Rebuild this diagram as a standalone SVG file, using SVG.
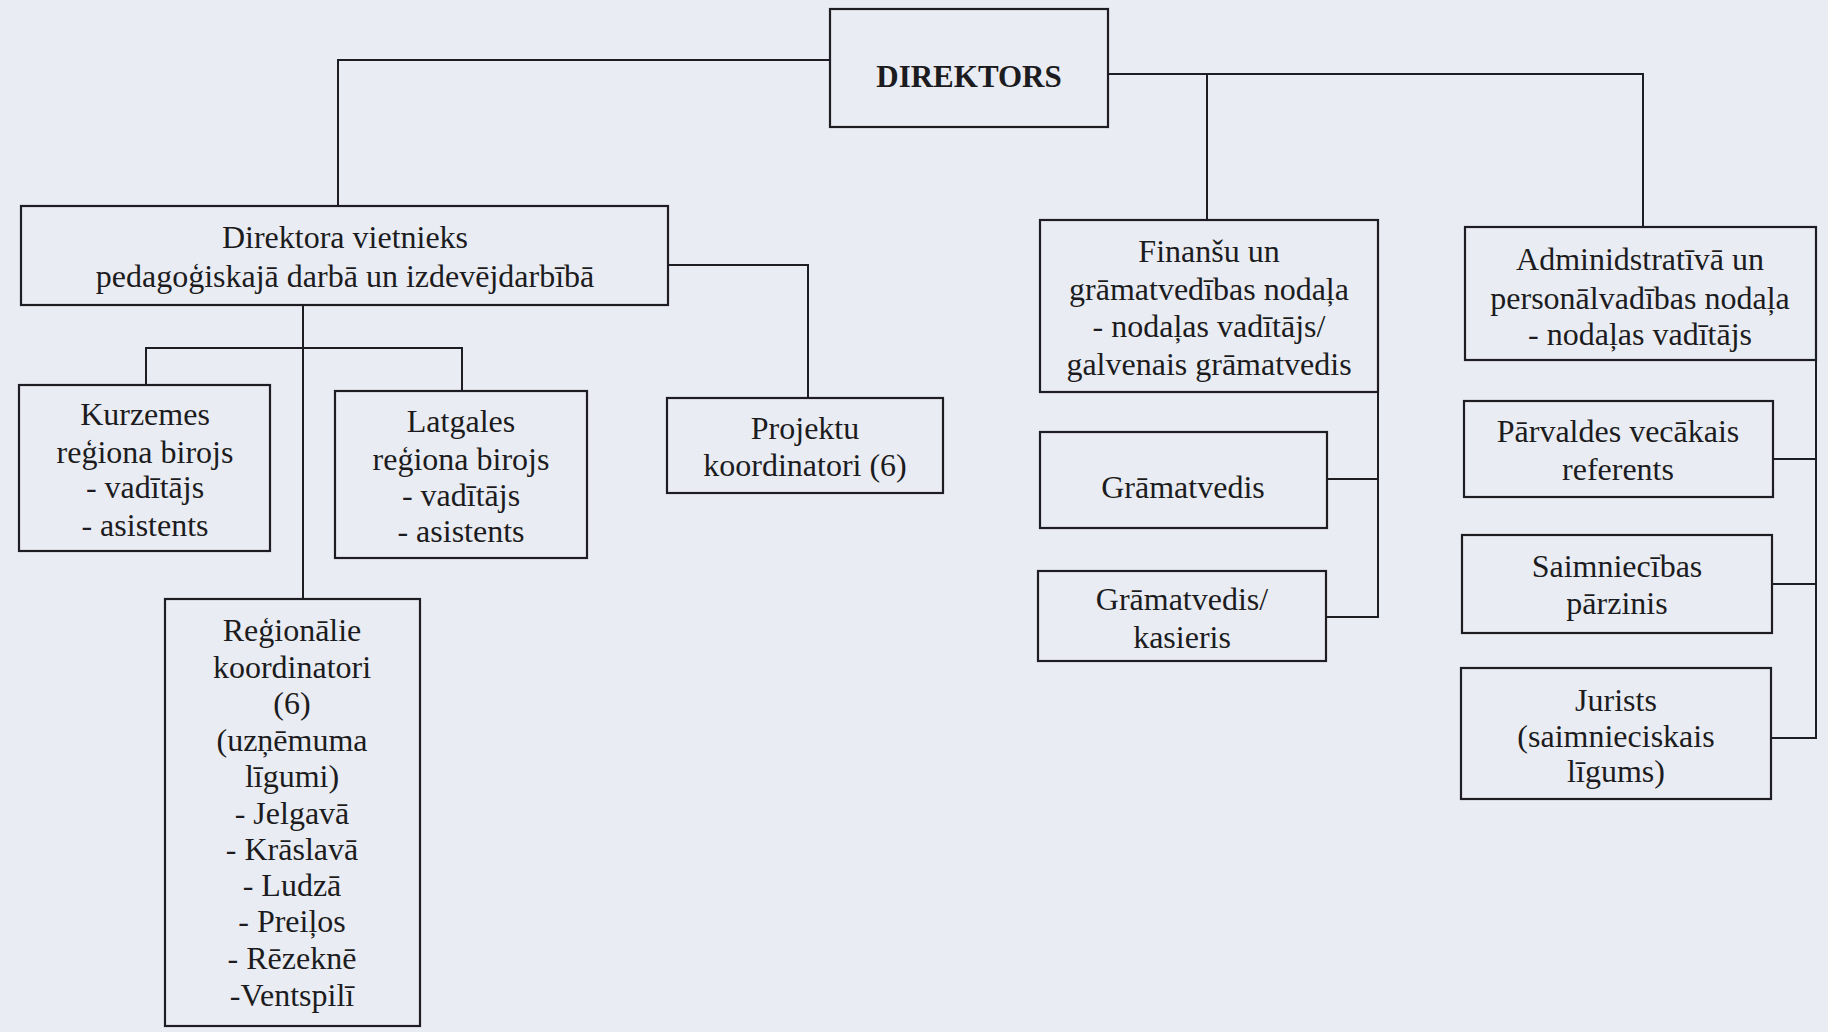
<svg xmlns="http://www.w3.org/2000/svg" width="1828" height="1032" viewBox="0 0 1828 1032">
<style>
.bg{fill:#eaecf4}
.box{fill:none;stroke:#1e1e22;stroke-width:2.2}
.ln{fill:none;stroke:#1e1e22;stroke-width:2}
text{font-family:"Liberation Serif","Times New Roman",serif;font-size:32px;fill:#1c1c20;text-anchor:middle}
.b{font-weight:bold;font-size:31px}
</style>
<rect class="bg" x="0" y="0" width="1828" height="1032"/>
<g id="connectors">
<polyline class="ln" points="830,60 338,60 338,205"/>
<polyline class="ln" points="1108,74 1643,74 1643,226"/>
<line class="ln" x1="1207" y1="74" x2="1207" y2="220"/>
<polyline class="ln" points="668,265 808,265 808,398"/>
<line class="ln" x1="303" y1="305" x2="303" y2="598"/>
<polyline class="ln" points="146,384 146,348 462,348 462,390"/>
<polyline class="ln" points="1378,392 1378,617 1326,617"/>
<line class="ln" x1="1327" y1="479" x2="1378" y2="479"/>
<polyline class="ln" points="1816,360 1816,738 1771,738"/>
<line class="ln" x1="1773" y1="459" x2="1816" y2="459"/>
<line class="ln" x1="1772" y1="584" x2="1816" y2="584"/>
</g>
<g id="direktors">
<rect class="box" x="830" y="9" width="278" height="118"/>
<text class="b" x="969" y="87">DIREKTORS</text>
</g>
<g id="vietnieks">
<rect class="box" x="21" y="206" width="647" height="99"/>
<text x="345" y="248">Direktora vietnieks</text>
<text x="345" y="287">pedagoģiskajā darbā un izdevējdarbībā</text>
</g>
<g id="kurzemes">
<rect class="box" x="19" y="385" width="251" height="166"/>
<text x="145" y="425">Kurzemes</text>
<text x="145" y="463">reģiona birojs</text>
<text x="145" y="498">- vadītājs</text>
<text x="145" y="536">- asistents</text>
</g>
<g id="latgales">
<rect class="box" x="335" y="391" width="252" height="167"/>
<text x="461" y="432">Latgales</text>
<text x="461" y="470">reģiona birojs</text>
<text x="461" y="506">- vadītājs</text>
<text x="461" y="542">- asistents</text>
</g>
<g id="projektu">
<rect class="box" x="667" y="398" width="276" height="95"/>
<text x="805" y="439">Projektu</text>
<text x="805" y="476">koordinatori (6)</text>
</g>
<g id="regionalie">
<rect class="box" x="165" y="599" width="255" height="427"/>
<text x="292" y="641">Reģionālie</text>
<text x="292" y="678">koordinatori</text>
<text x="292" y="714">(6)</text>
<text x="292" y="751">(uzņēmuma</text>
<text x="292" y="787">līgumi)</text>
<text x="292" y="824">- Jelgavā</text>
<text x="292" y="860">- Krāslavā</text>
<text x="292" y="896">- Ludzā</text>
<text x="292" y="932">- Preiļos</text>
<text x="292" y="969">- Rēzeknē</text>
<text x="292" y="1006">-Ventspilī</text>
</g>
<g id="finansu">
<rect class="box" x="1040" y="220" width="338" height="172"/>
<text x="1209" y="262">Finanšu un</text>
<text x="1209" y="300">grāmatvedības nodaļa</text>
<text x="1209" y="337">- nodaļas vadītājs/</text>
<text x="1209" y="375">galvenais grāmatvedis</text>
</g>
<g id="gramatvedis">
<rect class="box" x="1040" y="432" width="287" height="96"/>
<text x="1183" y="498">Grāmatvedis</text>
</g>
<g id="kasieris">
<rect class="box" x="1038" y="571" width="288" height="90"/>
<text x="1182" y="610">Grāmatvedis/</text>
<text x="1182" y="648">kasieris</text>
</g>
<g id="administrativa">
<rect class="box" x="1465" y="227" width="351" height="133"/>
<text x="1640" y="270">Adminidstratīvā un</text>
<text x="1640" y="309">personālvadības nodaļa</text>
<text x="1640" y="345">- nodaļas vadītājs</text>
</g>
<g id="parvaldes">
<rect class="box" x="1464" y="401" width="309" height="96"/>
<text x="1618" y="442">Pārvaldes vecākais</text>
<text x="1618" y="480">referents</text>
</g>
<g id="saimniecibas">
<rect class="box" x="1462" y="535" width="310" height="98"/>
<text x="1617" y="577">Saimniecības</text>
<text x="1617" y="614">pārzinis</text>
</g>
<g id="jurists">
<rect class="box" x="1461" y="668" width="310" height="131"/>
<text x="1616" y="711">Jurists</text>
<text x="1616" y="747">(saimnieciskais</text>
<text x="1616" y="782">līgums)</text>
</g>
</svg>
